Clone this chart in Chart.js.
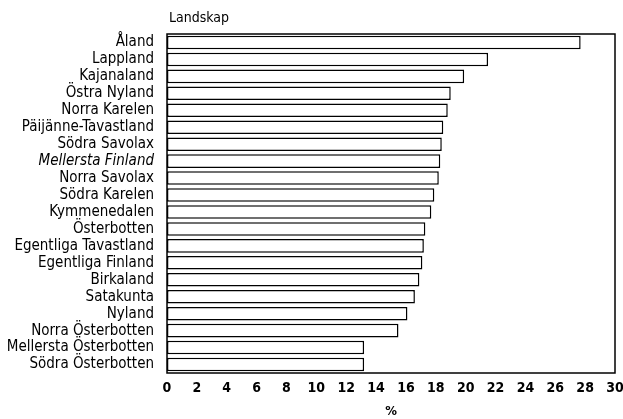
<!DOCTYPE html>
<html>
<head>
<meta charset="utf-8">
<script src="https://cdn.jsdelivr.net/npm/chart.js@4/dist/chart.umd.min.js"></script>
<style>
  html, body { margin: 0; padding: 0; background: #fff; }
  #wrap { width: 623px; height: 419px; }
</style>
</head>
<body>
<div id="wrap"><canvas id="landskapChart"></canvas></div>
<script>
var landskap = [
    "Åland", "Lappland", "Kajanaland", "Östra Nyland", "Norra Karelen",
    "Päijänne-Tavastland", "Södra Savolax", "Mellersta Finland", "Norra Savolax",
    "Södra Karelen", "Kymmenedalen", "Österbotten", "Egentliga Tavastland",
    "Egentliga Finland", "Birkaland", "Satakunta", "Nyland", "Norra Österbotten",
    "Mellersta Österbotten", "Södra Österbotten"
];
var andel = [
    27.7, 21.5, 19.9, 19.0, 18.8,
    18.5, 18.4, 18.3, 18.2,
    17.9, 17.7, 17.3, 17.2,
    17.1, 16.9, 16.6, 16.1, 15.5,
    13.2, 13.2
];
var xTicks = { min: 0, max: 30, step: 2 };

var fontFamily = "'DejaVu Sans Condensed', 'Liberation Sans Narrow', sans-serif";

// frame around the plot area plus the "Landskap" heading
var framePlugin = {
    id: "frame",
    afterDraw: function (chart) {
        var ctx = chart.ctx, a = chart.chartArea;
        ctx.save();
        ctx.strokeStyle = "#000";
        ctx.lineWidth = 1.5;
        ctx.strokeRect(a.left, a.top, a.right - a.left, a.bottom - a.top);
        ctx.fillStyle = "#000";
        ctx.font = "14px " + fontFamily;
        ctx.textAlign = "left";
        ctx.textBaseline = "middle";
        ctx.fillText("Landskap", a.left + 2, 18);
        ctx.restore();
    }
};

var ctx = document.getElementById("landskapChart").getContext("2d");
var landskapChart = new Chart(ctx, {
    type: "bar",
    data: {
        labels: landskap,
        datasets: [{
            label: "%",
            data: andel,
            backgroundColor: "#fff",
            borderColor: "#000",
            borderWidth: 1.5,
            borderSkipped: false,
            barPercentage: 0.8,
            categoryPercentage: 1
        }]
    },
    options: {
        indexAxis: "y",
        responsive: true,
        maintainAspectRatio: false,
        animation: false,
        layout: { padding: { top: 34, right: 0, left: 0, bottom: 0 } },
        plugins: {
            legend: { display: false },
            tooltip: { enabled: false }
        },
        scales: {
            x: {
                min: xTicks.min,
                max: xTicks.max,
                grid: { display: false, drawTicks: false },
                border: { display: false },
                afterFit: function (scale) {
                    scale.paddingLeft = 0;
                    scale.paddingRight = 8;
                },
                ticks: {
                    stepSize: xTicks.step,
                    color: "#000",
                    padding: 8,
                    maxRotation: 0,
                    font: { family: fontFamily, size: 14, weight: "bold", lineHeight: 1 }
                },
                title: {
                    display: true,
                    text: "%",
                    color: "#000",
                    padding: { top: 2, bottom: 1 },
                    font: { family: fontFamily, size: 13, weight: "bold", lineHeight: 1 }
                }
            },
            y: {
                grid: { display: false, drawTicks: false },
                border: { display: false },
                afterFit: function (scale) {
                    scale.width = 167;
                },
                ticks: {
                    color: "#000",
                    padding: 13,
                    autoSkip: false,
                    font: function (c) {
                        var italic = c.tick && c.tick.label === "Mellersta Finland";
                        return { family: fontFamily, size: 15, style: italic ? "italic" : "normal" };
                    }
                }
            }
        }
    },
    plugins: [framePlugin]
});
</script>
</body>
</html>
